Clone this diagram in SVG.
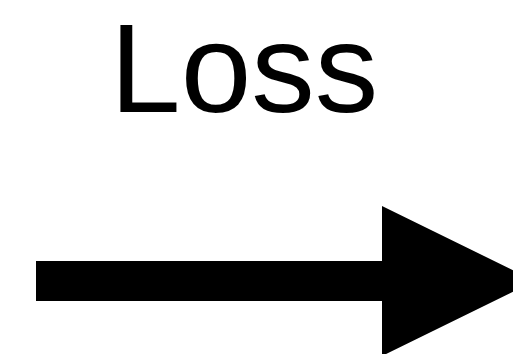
<svg xmlns="http://www.w3.org/2000/svg" width="513" height="354" viewBox="0 0 513 354">
<style>
.lbl{font-family:"Liberation Sans",Arial,sans-serif;font-size:127px;fill:#000}
</style>
<rect width="513" height="354" fill="#fff"/>
<g id="label"><text class="lbl" x="110" y="112">Loss</text></g>
<g id="connectors">
<polygon points="36,261 382,261 382,206 535,281 382,356 382,301 36,301" fill="#000"/>
</g>
</svg>
